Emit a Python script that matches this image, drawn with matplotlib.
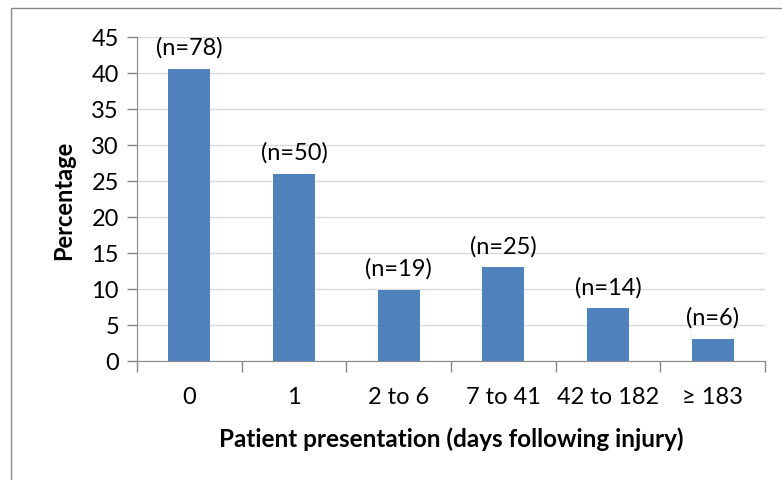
import numpy as np
import matplotlib
matplotlib.use("Agg")
import matplotlib.pyplot as plt
from matplotlib.patches import Rectangle

categories = ["0", "1", "2 to 6", "7 to 41", "42 to 182", "\u2265 183"]
percent = [40.6, 26.0, 9.9, 13.0, 7.3, 3.1]
counts = [78, 50, 19, 25, 14, 6]

plt.rcParams["font.family"] = ["Lato", "DejaVu Sans"]

fig = plt.figure(figsize=(7.82, 4.81), dpi=100)
ax = fig.add_axes([137 / 782, 1 - 362 / 481, (765 - 137) / 782, (362 - 38) / 481])

x = np.arange(len(categories))
ax.bar(x, percent, width=0.4, color="#4f81bd", zorder=3)
for xi, p, n in zip(x, percent, counts):
    ax.text(xi, p + 1.5, "(n=%d)" % n, ha="center", va="bottom", fontsize=17)

ax.set_xlim(-0.5, len(categories) - 0.5)
ax.set_ylim(0, 45)
ax.set_yticks(np.arange(0, 46, 5))
ax.tick_params(axis="y", labelsize=17, length=7, color="#888888", width=1, pad=6)
ax.yaxis.grid(True, color="#d9d9d9", linewidth=1, zorder=0)

ax.set_xticks(x)
ax.set_xticklabels(categories, fontsize=17)
ax.tick_params(axis="x", length=0, pad=18)
ax.set_xticks(np.arange(-0.5, len(categories)), minor=True)
ax.tick_params(axis="x", which="minor", length=8, color="#888888", width=1)

for s in ["top", "right"]:
    ax.spines[s].set_visible(False)
for s in ["left", "bottom"]:
    ax.spines[s].set_color("#888888")

ax.set_ylabel("Percentage", fontsize=17, fontweight="bold", labelpad=12)
ax.set_xlabel("Patient presentation (days following injury)", fontsize=17.5, fontweight="bold", labelpad=14)

fig.patches.append(Rectangle((11 / 782, -0.1), 1, 1 - 9 / 481 + 0.1, transform=fig.transFigure,
                             fill=False, edgecolor="#888888", linewidth=1))

fig.savefig("out.png", dpi=100)
